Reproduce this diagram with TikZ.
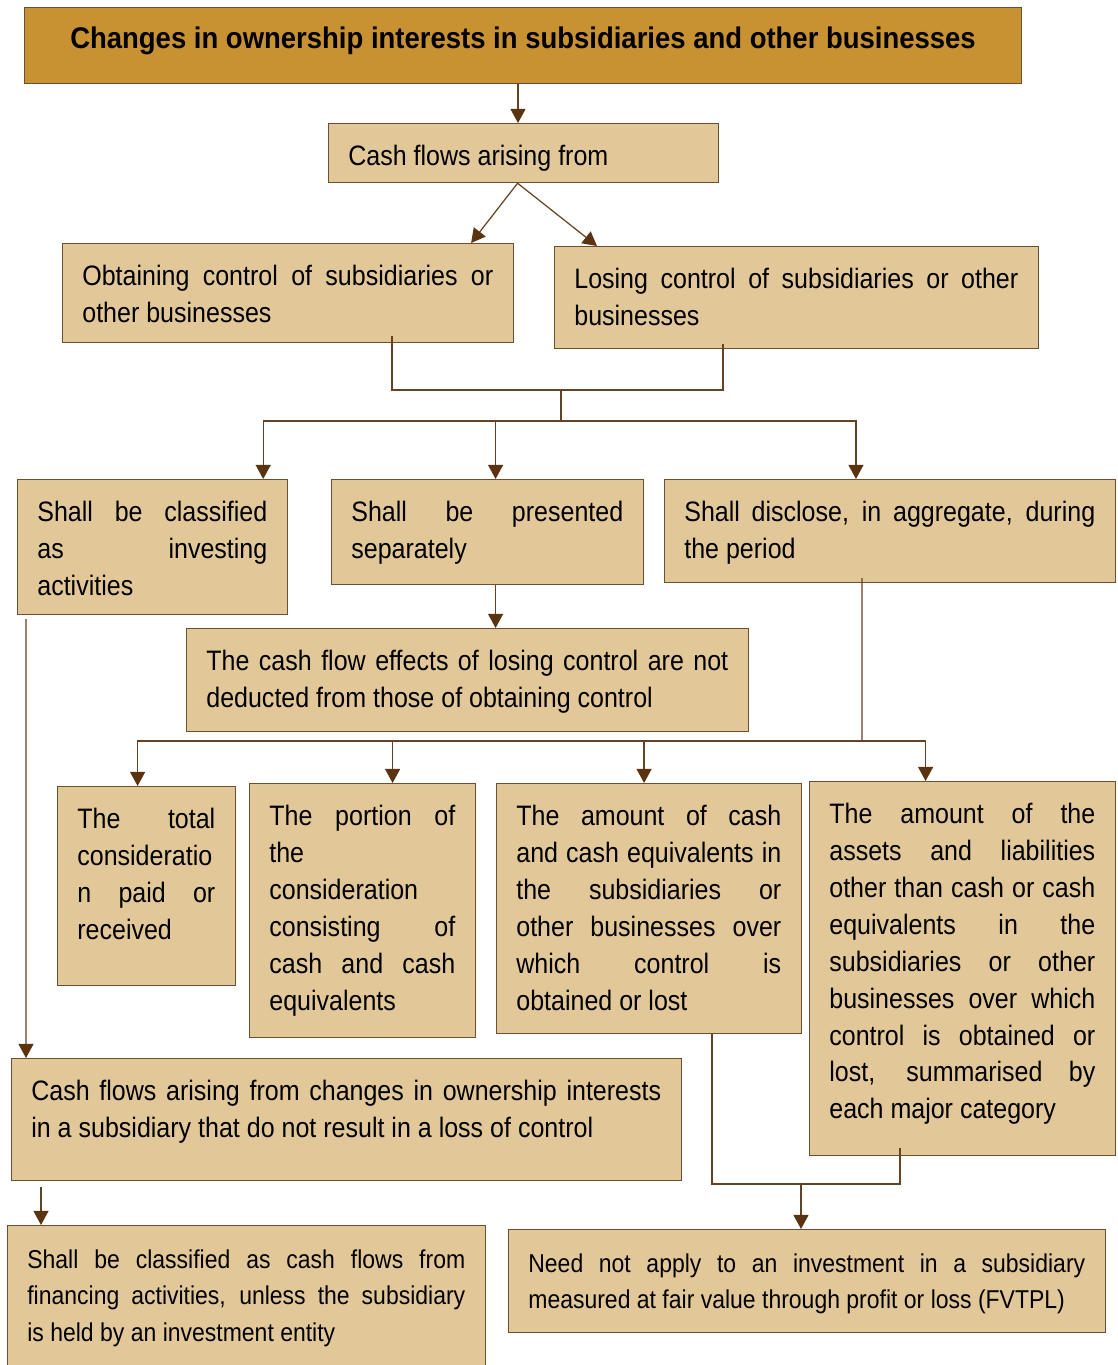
\documentclass[tikz,border=0pt]{standalone}
\usepackage{fontspec}
\newfontfamily\boxfont[FakeStretch=0.89]{Liberation Sans}
\newfontfamily\headfont[FakeStretch=0.92]{Liberation Sans}
\usetikzlibrary{positioning}
\usetikzlibrary{arrows.meta}

\definecolor{headgold}{RGB}{200,146,51}
\definecolor{boxtan}{RGB}{226,200,152}
\definecolor{edgebrown}{RGB}{110,78,48}
\definecolor{linkbrown}{RGB}{100,66,36}
\definecolor{tipbrown}{RGB}{92,51,17}

\hyphenpenalty=10000
\exhyphenpenalty=10000
\tolerance=9999

\tikzset{
  box/.style={draw=edgebrown, fill=boxtan, line width=0.7pt, anchor=north west, inner sep=0pt},
  txt/.style={anchor=north west, inner xsep=0.4cm, inner ysep=0.44cm, align=justify,
    font=\boxfont\fontsize{16}{21}\selectfont},
  smalltxt/.style={txt, inner ysep=0.48cm, font=\boxfont\fontsize{14.7}{21}\selectfont},
  link/.style={draw=linkbrown, line width=0.7pt},
  arr/.style={link, -{Triangle[length=8pt,width=8.5pt,color=tipbrown]}},
}

\begin{document}
\begin{tikzpicture}[x=0.02cm, y=-0.02cm]
	\useasboundingbox (0,0) rectangle (1117,1365);

	% top of the chart
	\node[box, fill=headgold, minimum width=19.94cm, minimum height=1.52cm,
		label={[txt, anchor=north, inner ysep=0.4cm, font=\headfont\bfseries\fontsize{17}{21}\selectfont]north:Changes in ownership interests in subsidiaries and other businesses}] (title) at (24,7) {};
	\node[box, minimum width=7.8cm, minimum height=1.18cm,
		label={[txt, text width=7.0cm]north west:Cash flows arising from}] (cash) at (328,123) {};
	\node[box, minimum width=9.02cm, minimum height=1.98cm,
		label={[txt, text width=8.22cm]north west:Obtaining control of subsidiaries or\linebreak other businesses}] (obtain) at (62,243) {};
	\node[box, minimum width=9.68cm, minimum height=2.04cm,
		label={[txt, text width=8.88cm]north west:Losing control of subsidiaries or other\linebreak businesses}] (lose) at (554,246) {};

	% what applies to both
	\node[box, minimum width=5.4cm, minimum height=2.7cm,
		label={[txt, text width=4.6cm]north west:Shall be classified\linebreak as investing\linebreak activities}] (invest) at (17,479) {};
	\node[box, minimum width=6.24cm, minimum height=2.1cm,
		label={[txt, text width=5.44cm]north west:Shall be presented\linebreak separately}] (separate) at (331,479) {};
	\node[box, minimum width=9.02cm, minimum height=2.06cm,
		label={[txt, text width=8.22cm]north west:Shall disclose, in aggregate, during\linebreak the period}] (disclose) at (664,479) {};
	\node[box, minimum width=11.24cm, minimum height=2.06cm,
		label={[txt, text width=10.44cm]north west:The cash flow effects of losing control are not\linebreak deducted from those of obtaining control}] (effects) at (186,628) {};

	% disclosures
	\node[box, minimum width=3.56cm, minimum height=3.98cm,
		label={[txt, text width=2.76cm]north west:The total\linebreak consideratio\linebreak n paid or\linebreak received}] (total) at (57,786) {};
	\node[box, minimum width=4.52cm, minimum height=5.08cm,
		label={[txt, text width=3.72cm]north west:The portion of\linebreak the\linebreak consideration\linebreak consisting of\linebreak cash and cash\linebreak equivalents}] (portion) at (249,783) {};
	\node[box, minimum width=6.1cm, minimum height=5.0cm,
		label={[txt, text width=5.3cm]north west:The amount of cash\linebreak and cash equivalents in\linebreak the subsidiaries or\linebreak other businesses over\linebreak which control is\linebreak obtained or lost}] (amountcash) at (496,783) {};
	\node[box, minimum width=6.12cm, minimum height=7.48cm,
		label={[txt, text width=5.32cm]north west:The amount of the\linebreak assets and liabilities\linebreak other than cash or cash\linebreak equivalents in the\linebreak subsidiaries or other\linebreak businesses over which\linebreak control is obtained or\linebreak lost, summarised by\linebreak each major category}] (amountassets) at (809,781) {};

	% no loss of control
	\node[box, minimum width=13.4cm, minimum height=2.44cm,
		label={[txt, text width=12.6cm]north west:Cash flows arising from changes in ownership interests\linebreak in a subsidiary that do not result in a loss of control}] (noloss) at (11,1058) {};
	\node[box, minimum width=9.56cm, minimum height=3.0cm,
		label={[smalltxt, text width=8.76cm]north west:Shall be classified as cash flows from\linebreak financing activities, unless the subsidiary\linebreak is held by an investment entity}] (financing) at (7,1225) {};
	\node[box, minimum width=11.94cm, minimum height=2.06cm,
		label={[smalltxt, text width=11.14cm]north west:Need not apply to an investment in a subsidiary\linebreak measured at fair value through profit or loss (FVTPL)}] (fvtpl) at (508,1229) {};

	\coordinate (merge) at (561,390);
	\coordinate (split) at (561,421);
	\coordinate (bar) at (862,741);
	\coordinate (join) at (801,1184);

	\draw[arr] ([xshift=-0.1cm]title.south) -- ([xshift=-0.1cm]title.south |- cash.north);
	\draw[arr] ([xshift=-0.12cm]cash.south) -- ([xshift=-0.86cm]obtain.north east);
	\draw[arr] ([xshift=-0.12cm]cash.south) -- ([xshift=0.86cm]lose.north west);
	\draw[link] ([xshift=6.6cm,yshift=0.14cm]obtain.south west) |- (merge) -| ([xshift=3.38cm,yshift=0.1cm]lose.south west);
	\draw[link] (merge) -- (split);
	\draw[arr] (split) -| ([xshift=-0.5cm]invest.north east);
	\draw[arr] (split) -| ([xshift=0.16cm]separate.north);
	\draw[arr] (split) -| ([xshift=3.84cm]disclose.north west);
	\draw[arr] ([xshift=0.16cm]separate.south) -- ([xshift=0.16cm]separate.south |- effects.north);

	\draw[link] ([xshift=3.96cm,yshift=0.1cm]disclose.south west) -- (bar);
	\draw[arr] (bar) -| ([xshift=-0.18cm]total.north);
	\draw[arr] (bar) -| ([xshift=0.6cm]portion.north);
	\draw[arr] (bar) -| ([xshift=-0.1cm]amountcash.north);
	\draw[arr] (bar) -| ([xshift=-0.74cm]amountassets.north);

	\draw[arr] ([xshift=0.18cm,yshift=-0.08cm]invest.south west) -- ([xshift=0.3cm]noloss.north west);
	\draw[arr] ([xshift=0.6cm,yshift=-0.12cm]noloss.south west) -- ([xshift=0.6cm]noloss.south west |- financing.north);
	\draw[link] ([xshift=4.32cm]amountcash.south west) |- (join) -| ([xshift=1.82cm,yshift=0.16cm]amountassets.south west);
	\draw[arr] (join) -- (join |- fvtpl.north);
\end{tikzpicture}
\end{document}
